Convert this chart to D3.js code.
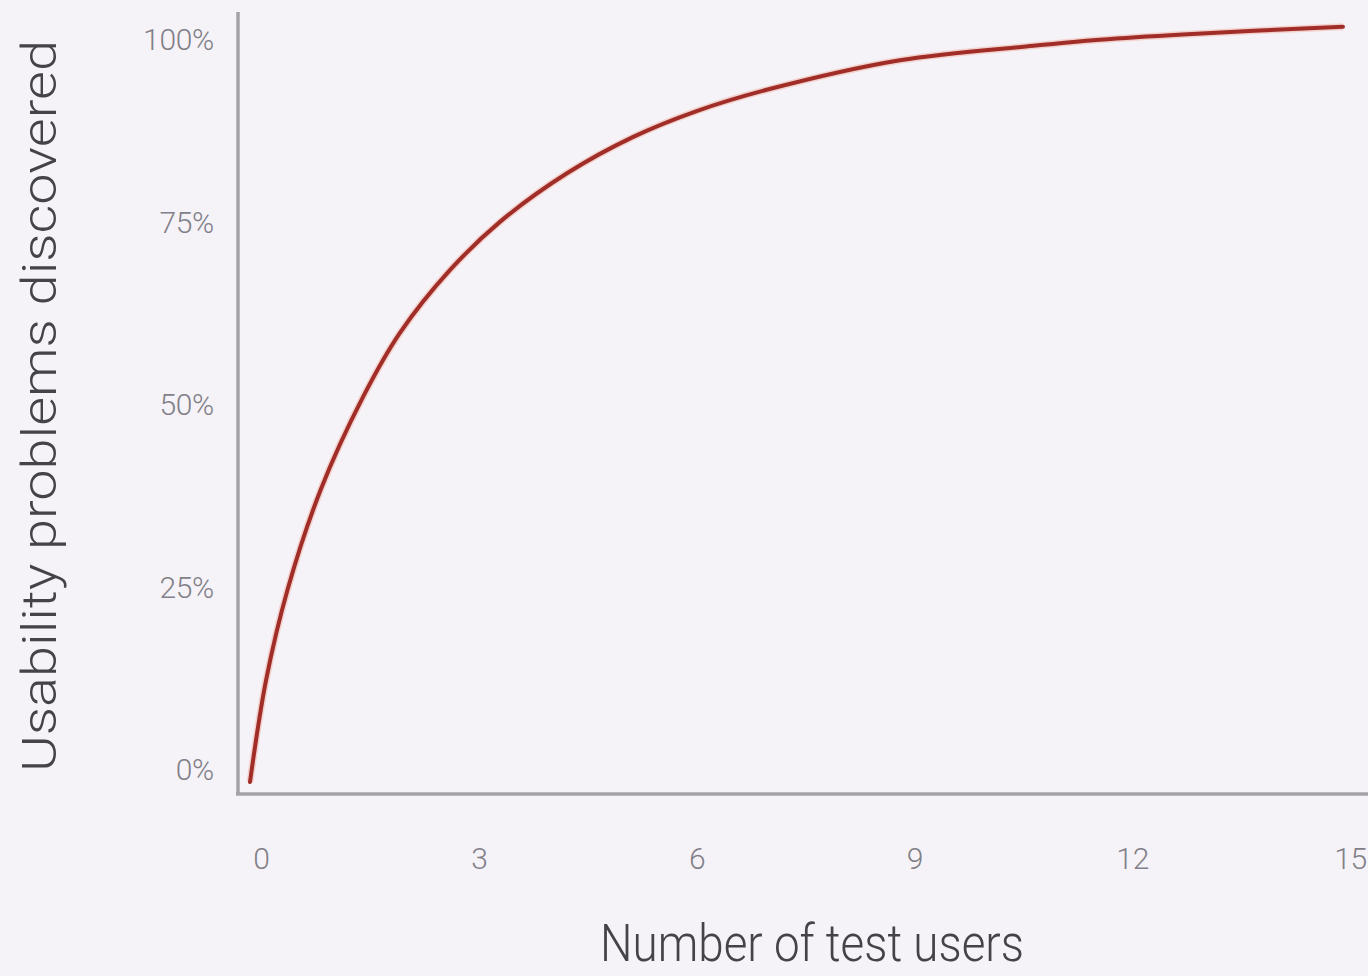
<!DOCTYPE html>
<html>
<head>
<meta charset="utf-8">
<script src="https://cdn.jsdelivr.net/npm/d3@7"></script>
<style>
  html, body { margin: 0; padding: 0; background: #f5f3f7; }
  svg { display: block; }
</style>
</head>
<body>
<svg id="chart" width="1368" height="976"></svg>
<script>
// Number of test users
const users = [0, 0.22, 0.52, 0.97, 1.55, 2.06, 2.74, 3.43, 4.35, 5.26, 6.13, 7.09, 8.92, 10.75, 11.66, 12.8, 15];
// Share of usability problems discovered
const discovered = [0, 0.134, 0.255, 0.385, 0.507, 0.592, 0.674, 0.738, 0.802, 0.850, 0.884, 0.912, 0.951, 0.970, 0.978, 0.985, 0.995];
// Tick labels
const xTicks = [0, 3, 6, 9, 12, 15];
const yTicks = [0, 0.25, 0.5, 0.75, 1];
const xTitle = "Number of test users";
const yTitle = "Usability problems discovered";

const svg = d3.select("#chart");
const W = 1368, H = 976;
svg.append("rect").attr("width", W).attr("height", H).attr("fill", "#f5f3f7");

const FONT = "Roboto, 'Liberation Sans', Arial, sans-serif";

// Scales for the curve
const x = d3.scaleLinear().domain([0, 15]).range([250, 1343]);
const y = d3.scaleLinear().domain([0, 1]).range([782, 23]);
// Label placement scales (labels sit slightly offset in the original)
const xl = d3.scaleLinear().domain([0, 15]).range([261, 1350]);
const yl = d3.scaleLinear().domain([0, 1]).range([770, 40]);

// Axis lines
svg.append("line").attr("x1", 238).attr("x2", 238).attr("y1", 12).attr("y2", 795)
  .attr("stroke", "#a4a2a8").attr("stroke-width", 3.5);
svg.append("line").attr("x1", 236).attr("x2", W).attr("y1", 794).attr("y2", 794)
  .attr("stroke", "#a4a2a8").attr("stroke-width", 3.5);

// Y tick labels via d3.axis
const yAxis = svg.append("g").attr("transform", "translate(214,0)")
  .call(d3.axisLeft(yl).tickValues(yTicks).tickSize(0).tickPadding(0)
        .tickFormat(d3.format(".0%")));
yAxis.select(".domain").remove();
yAxis.selectAll("text")
  .attr("font-family", FONT).attr("font-weight", 300).attr("font-size", 30)
  .attr("fill", "#827f88").attr("letter-spacing", -0.3);

// X tick labels via d3.axis
const xAxis = svg.append("g").attr("transform", "translate(0,848)")
  .call(d3.axisBottom(xl).tickValues(xTicks).tickSize(0).tickPadding(0)
        .tickFormat(d3.format("d")));
xAxis.select(".domain").remove();
xAxis.selectAll("text")
  .attr("font-family", FONT).attr("font-weight", 300).attr("font-size", 30)
  .attr("fill", "#827f88").attr("letter-spacing", -0.3);

// Curve
const pts = users.map((u, i) => [u, discovered[i]]);
const line = d3.line().x(d => x(d[0])).y(d => y(d[1])).curve(d3.curveCatmullRom.alpha(0.5));
svg.append("path").datum(pts).attr("d", line)
  .attr("fill", "none").attr("stroke", "#f2b2a6").attr("stroke-width", 7).attr("opacity", 0.5);
svg.append("path").datum(pts).attr("d", line)
  .attr("fill", "none").attr("stroke", "#a02d27").attr("stroke-width", 4)
  .attr("stroke-linecap", "round");

// Axis titles
svg.append("text").attr("x", 600).attr("y", 961)
  .attr("font-family", FONT).attr("font-weight", 300).attr("font-size", 52)
  .attr("fill", "#45434a")
  .attr("textLength", 424).attr("lengthAdjust", "spacingAndGlyphs")
  .text(xTitle);

svg.append("text")
  .attr("transform", "translate(56,772) rotate(-90)")
  .attr("font-family", FONT).attr("font-weight", 300).attr("font-size", 48)
  .attr("fill", "#45434a")
  .attr("textLength", 732).attr("lengthAdjust", "spacingAndGlyphs")
  .text(yTitle);
</script>
</body>
</html>
